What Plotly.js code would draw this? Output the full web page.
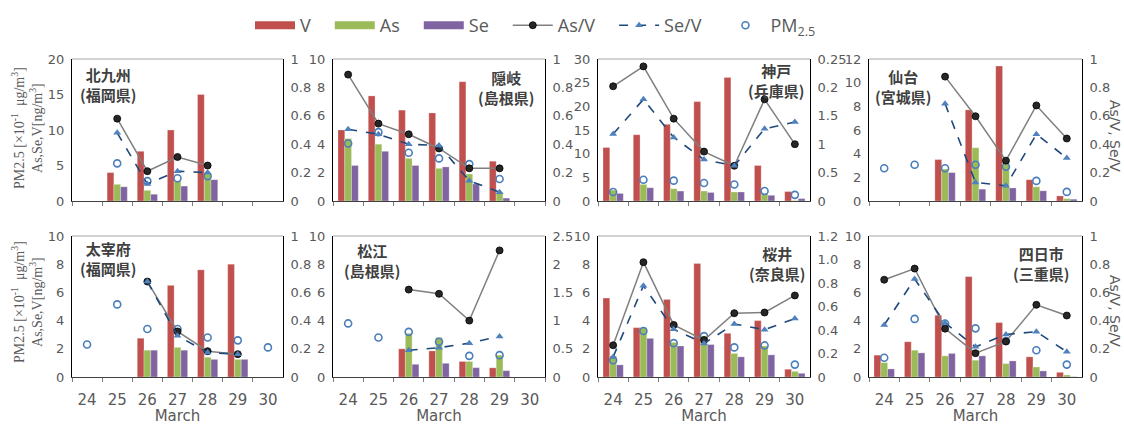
<!DOCTYPE html>
<html><head><meta charset="utf-8">
<script src="https://cdn.plot.ly/plotly-3.0.1.min.js"></script>
<style>body{margin:0;background:#fff}#chart{width:1124px;height:425px}</style>
</head><body><div id="chart"></div>
<script>
// ---------- data ----------
const days = ['24','25','26','27','28','29','30'];

const kitakyushu_V   = [null, 4.0, 7.0, 10.0, 15.0, null, null];
const kitakyushu_As  = [null, 2.35, 1.5, 2.8, 4.0, null, null];
const kitakyushu_Se  = [null, 2.0, 0.95, 2.1, 3.0, null, null];
const kitakyushu_AsV = [null, 0.58, 0.21, 0.31, 0.25, null, null];
const kitakyushu_SeV = [null, 0.48, 0.12, 0.21, 0.20, null, null];
const kitakyushu_PM  = [null, 5.3, 2.8, 3.2, 3.5, null, null];

const oki_V   = [5.0, 7.4, 6.4, 6.2, 8.4, 2.8, null];
const oki_As  = [4.4, 4.0, 3.0, 2.3, 1.9, 0.6, null];
const oki_Se  = [2.5, 3.5, 2.5, 2.4, 1.2, 0.2, null];
const oki_AsV = [0.89, 0.545, 0.47, 0.37, 0.23, 0.23, null];
const oki_SeV = [0.505, 0.47, 0.40, 0.39, 0.143, 0.062, null];
const oki_PM  = [4.05, 4.85, 3.4, 3.0, 2.6, 1.55, null];

const kobe_V   = [11.3, 14.0, 16.2, 21.0, 26.1, 7.5, 2.0];
const kobe_As  = [2.3, 3.5, 2.6, 2.1, 1.9, 1.6, 0.1];
const kobe_Se  = [1.6, 2.8, 2.1, 1.8, 1.9, 1.2, 0.5];
const kobe_AsV = [2.02, 2.37, 1.45, 0.87, 0.62, 1.79, 1.0];
const kobe_SeV = [1.18, 1.79, 1.12, 0.73, 0.62, 1.27, 1.39];
const kobe_PM  = [1.9, 4.5, 4.3, 3.8, 3.5, 2.1, 1.3];

const sendai_V   = [null, null, 3.5, 7.7, 11.4, 1.8, 0.43];
const sendai_As  = [null, null, 2.7, 4.5, 3.1, 1.2, 0.2];
const sendai_Se  = [null, null, 2.4, 1.0, 1.1, 0.86, 0.15];
const sendai_AsV = [null, null, 0.876, 0.597, 0.284, 0.673, 0.44];
const sendai_SeV = [null, null, 0.685, 0.131, 0.107, 0.47, 0.303];
const sendai_PM  = [2.77, 3.06, 2.77, 3.06, 2.9, 1.7, 0.77];

const dazaifu_V   = [null, null, 2.75, 6.5, 7.6, 8.0, null];
const dazaifu_As  = [null, null, 1.9, 2.1, 1.4, 1.25, null];
const dazaifu_Se  = [null, null, 1.9, 1.9, 1.25, 1.25, null];
const dazaifu_AsV = [null, null, 0.677, 0.323, 0.183, 0.162, null];
const dazaifu_SeV = [null, null, 0.677, 0.292, 0.173, 0.162, null];
const dazaifu_PM  = [2.3, 5.15, 3.4, 3.4, 2.8, 2.6, 2.1];

const matsue_V   = [null, null, 2.0, 1.85, 1.1, 0.65, null];
const matsue_As  = [null, null, 3.1, 2.8, 1.1, 1.55, null];
const matsue_Se  = [null, null, 0.9, 0.97, 0.66, 0.45, null];
const matsue_AsV = [null, null, 1.55, 1.475, 1.0, 2.245, null];
const matsue_SeV = [null, null, 0.474, 0.52, 0.60, 0.72, null];
const matsue_PM  = [3.8, 2.8, 3.2, 2.5, 1.5, 1.55, null];

const sakurai_V   = [5.6, 3.5, 5.5, 8.05, 3.1, 4.0, 0.55];
const sakurai_As  = [1.5, 3.5, 2.45, 2.9, 1.67, 2.2, 0.4];
const sakurai_Se  = [0.86, 2.74, 2.2, 2.3, 1.43, 1.57, 0.26];
const sakurai_AsV = [0.27, 0.977, 0.443, 0.314, 0.543, 0.549, 0.694];
const sakurai_SeV = [0.171, 0.777, 0.406, 0.286, 0.451, 0.403, 0.497];
const sakurai_PM  = [1.19, 3.26, 2.4, 2.9, 2.1, 2.24, 0.88];

const yokkaichi_V   = [1.55, 2.5, 4.38, 7.12, 3.86, 1.43, 0.33];
const yokkaichi_As  = [1.02, 1.9, 1.5, 1.19, 0.95, 0.71, 0.14];
const yokkaichi_Se  = [0.57, 1.71, 1.67, 1.5, 1.14, 0.43, 0.02];
const yokkaichi_AsV = [0.69, 0.769, 0.343, 0.169, 0.252, 0.512, 0.436];
const yokkaichi_SeV = [0.369, 0.695, 0.383, 0.214, 0.302, 0.321, 0.179];
const yokkaichi_PM  = [1.36, 4.12, 3.79, 3.45, 2.55, 1.9, 0.88];

const siteNames = ['北九州<br>(福岡県)', '隠岐<br>(島根県)', '神戸<br>(兵庫県)', '仙台<br>(宮城県)',
                   '太宰府<br>(福岡県)', '松江<br>(島根県)', '桜井<br>(奈良県)', '四日市<br>(三重県)'];

const leftMax  = [20, 10, 30, 12, 10, 10, 10, 10];
const leftStep = [5, 2, 5, 2, 2, 2, 2, 2];
const rightTickVals = [
  [0,0.2,0.4,0.6,0.8,1], [0,0.2,0.4,0.6,0.8,1], [0,0.5,1,1.5,2,2.5], [0,0.2,0.4,0.6,0.8,1],
  [0,0.2,0.4,0.6,0.8,1], [0,0.5,1,1.5,2,2.5], [0,0.2,0.4,0.6,0.8,1.0,1.2], [0,0.2,0.4,0.6,0.8,1]];
const rightTickText = [
  ['0','0.2','0.4','0.6','0.8','1'], ['0','0.2','0.4','0.6','0.8','1'], ['0','0.5','1','1.5','0.2','0.25'],
  ['0','0.2','0.4','0.6','0.8','1'], ['0','0.2','0.4','0.6','0.8','1'], ['0','0.5','1','1.5','2','2.5'],
  ['0','0.2','0.4','0.6','0.8','1.0','1.2'], ['0','0.2','0.4','0.6','0.8','1']];

const panels = [
  {V: kitakyushu_V, As: kitakyushu_As, Se: kitakyushu_Se, AsV: kitakyushu_AsV, SeV: kitakyushu_SeV, PM: kitakyushu_PM},
  {V: oki_V, As: oki_As, Se: oki_Se, AsV: oki_AsV, SeV: oki_SeV, PM: oki_PM},
  {V: kobe_V, As: kobe_As, Se: kobe_Se, AsV: kobe_AsV, SeV: kobe_SeV, PM: kobe_PM},
  {V: sendai_V, As: sendai_As, Se: sendai_Se, AsV: sendai_AsV, SeV: sendai_SeV, PM: sendai_PM},
  {V: dazaifu_V, As: dazaifu_As, Se: dazaifu_Se, AsV: dazaifu_AsV, SeV: dazaifu_SeV, PM: dazaifu_PM},
  {V: matsue_V, As: matsue_As, Se: matsue_Se, AsV: matsue_AsV, SeV: matsue_SeV, PM: matsue_PM},
  {V: sakurai_V, As: sakurai_As, Se: sakurai_Se, AsV: sakurai_AsV, SeV: sakurai_SeV, PM: sakurai_PM},
  {V: yokkaichi_V, As: yokkaichi_As, Se: yokkaichi_Se, AsV: yokkaichi_AsV, SeV: yokkaichi_SeV, PM: yokkaichi_PM}
];

// ---------- layout geometry (pixels) ----------
const W = 1124, H = 425;
const colPx = [[72,283],[333,545],[598,810],[869,1082]];
const rowPx = [[59,201],[236,377]];
const labelPos = [[108,85],[506,88],[776,80],[903,86],[108,258],[372,260],[777,263],[1041,263]];
const px = v => v / W, py = v => 1 - v / H;

const C = {V:'#C0504D', As:'#9BBB59', Se:'#8064A2', AsV:'#7F7F7F', SeV:'#1F497D', SeVm:'#4F81BD', PM:'#4A7EBB'};
const tickFont = {family:'DejaVu Sans, Verdana, sans-serif', size:13, color:'#595959'};
const pad = '\u00a0\u00a0\u00a0';

const traces = [];
const layout = {
  width: W, height: H, margin: {l:0, r:0, t:0, b:0},
  paper_bgcolor: '#fff', plot_bgcolor: 'rgba(0,0,0,0)',
  barmode: 'group', bargap: 0.33, bargroupgap: 0,
  showlegend: true,
  legend: {orientation:'h', x:px(250), xanchor:'left', y:py(7), yanchor:'top',
           font:{family:'Open Sans, sans-serif', size:18, color:'#595959'}, itemwidth:40,
           traceorder:'normal', bgcolor:'rgba(0,0,0,0)'},
  annotations: [], shapes: []
};
const sfx = n => n === 1 ? '' : String(n);

// legend keys for the bar series (wide flat swatches, like the reference)
[['V', C.V, 1], ['As', C.As, 2], ['Se', C.Se, 3]].forEach(([n, c, r]) => {
  traces.push({type:'scatter', mode:'lines', x:[null], y:[null], name: n + pad, legendrank: r,
    line:{color:c, width:8}, showlegend:true, hoverinfo:'skip'});
});

panels.forEach((p, i) => {
  const col = i % 4, row = Math.floor(i / 4);
  const xn = i + 1, yl = 2 * i + 1, yr = 2 * i + 2;
  const xa = 'x' + sfx(xn), ya = 'y' + sfx(yl), yb = 'y' + sfx(yr);
  const show = i === 0;
  const bar = (vals, name, color) => ({
    type:'bar', x: days, y: vals, name, xaxis: xa, yaxis: ya,
    marker:{color, line:{color:'rgba(255,255,255,0.5)', width:0.5}},
    showlegend: false, hoverinfo:'skip'
  });
  traces.push(bar(p.V, 'V', C.V));
  traces.push(bar(p.As, 'As', C.As));
  traces.push(bar(p.Se, 'Se', C.Se));
  traces.push({type:'scatter', mode:'markers', x: days, y: p.PM, name:'PM<sub>2.5</sub>', xaxis: xa, yaxis: ya,
    marker:{symbol:'circle-open', size:7, color:C.PM, line:{width:1.6, color:C.PM}},
    showlegend: show, legendrank: 6, cliponaxis:false});
  traces.push({type:'scatter', mode:'lines+markers', x: days, y: p.AsV, name:'As/V' + pad, xaxis: xa, yaxis: yb,
    line:{color:C.AsV, width:1.5}, marker:{symbol:'circle', size:7, color:'#262626', line:{color:'#000', width:0.8}},
    showlegend: show, legendrank: 4});
  traces.push({type:'scatter', mode:'lines+markers', x: days, y: p.SeV, name:'Se/V' + pad, xaxis: xa, yaxis: yb,
    line:{color:C.SeV, width:1.6, dash:'dash'}, marker:{symbol:'triangle-up', size:7, color:C.SeVm},
    showlegend: show, legendrank: 5});

  const xdom = [px(colPx[col][0]), px(colPx[col][1])];
  const ydom = [py(rowPx[row][1]), py(rowPx[row][0])];
  const xaxis = {
    domain: xdom, anchor: ya, type:'category', range:[-0.5, 6.5],
    showline:true, linecolor:'#404040', linewidth:1,
    ticks:'outside', tickson:'boundaries', ticklen:4, tickcolor:'#7F7F7F',
    showticklabels: row === 1, tickfont:{family:'DejaVu Sans, sans-serif', size:15, color:'#595959'},
    ticklabelstandoff: 9,
    showgrid:false, zeroline:false, fixedrange:true
  };
  if (row === 1) xaxis.title = {text:'March', standoff:8, font:{family:'DejaVu Sans, sans-serif', size:15, color:'#595959'}};
  layout['xaxis' + sfx(xn)] = xaxis;
  const lt = [];
  for (let v = 0; v <= leftMax[i] + 1e-9; v += leftStep[i]) lt.push(v);
  layout['yaxis' + sfx(yl)] = {
    domain: ydom, anchor: xa, range:[0, leftMax[i]], tickvals: lt, ticktext: lt.map(String),
    showline:true, linecolor:'#000', linewidth:1, ticks:'', showgrid:false, zeroline:false,
    tickfont: tickFont, fixedrange:true, ticklabelstandoff:4
  };
  const rv = rightTickVals[i];
  layout['yaxis' + sfx(yr)] = {
    overlaying: ya, side:'right', anchor: xa, range:[0, rv[rv.length - 1]],
    tickvals: rv, ticktext: rightTickText[i],
    showline:true, linecolor:'#000', linewidth:1, ticks:'', showgrid:false, zeroline:false,
    tickfont: tickFont, fixedrange:true, ticklabelstandoff:4
  };
  // top frame line
  layout.shapes.push({type:'line', xref: xa + ' domain', yref: ya + ' domain', x0:0, x1:1, y0:1, y1:1,
    line:{color:'#A6A6A6', width:1.2}});
  // site label
  layout.annotations.push({xref:'paper', yref:'paper', x: px(labelPos[i][0]), y: py(labelPos[i][1]),
    text:'<b>' + siteNames[i] + '</b>', showarrow:false, xanchor:'center', yanchor:'middle',
    font:{family:'Noto Sans CJK JP, sans-serif', size:15, color:'#404040'}});
});

// axis titles
const serif = {family:'Liberation Serif, Times New Roman, serif', size:14, color:'#595959'};
[128, 302].forEach(yc => {
  layout.annotations.push({xref:'paper', yref:'paper', x: px(27), y: py(yc), textangle:-90,
    text:'PM2.5 [×10<sup>-1</sup>  μg/m<sup>3</sup>]<br>As,Se,V[ng/m<sup>3</sup>]',
    showarrow:false, xanchor:'center', yanchor:'middle', font: serif});
});
[136, 311].forEach(yc => {
  layout.annotations.push({xref:'paper', yref:'paper', x: px(1115), y: py(yc), textangle:90,
    text:'As/V, Se/V', showarrow:false, xanchor:'center', yanchor:'middle',
    font:{family:'DejaVu Sans, sans-serif', size:14, color:'#595959'}});
});

Plotly.newPlot('chart', traces, layout, {displayModeBar:false, staticPlot:true});
</script>
</body></html>
